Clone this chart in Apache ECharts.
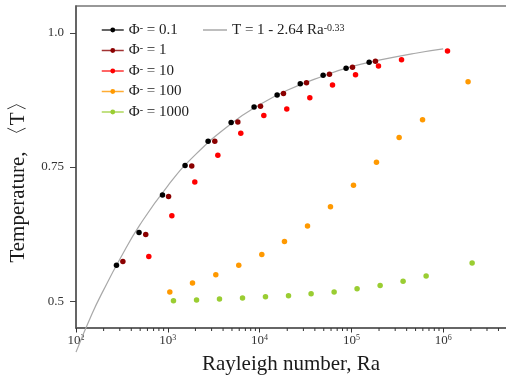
<!DOCTYPE html>
<html>
<head>
<meta charset="utf-8">
<script src="https://cdn.jsdelivr.net/npm/echarts@6/dist/echarts.min.js"></script>
<style>
  html, body { margin: 0; padding: 0; background: #fff; }
  #chart { width: 506px; height: 375px; }
</style>
</head>
<body>
<div id="chart"></div>
<script>
// Mean temperature <T> against Rayleigh number for five values of Φ⁻
const phiLabels = ['0.1', '1', '10', '100', '1000'];
const phiColors = ['#000000', '#8b0000', '#ff0000', '#ff9900', '#9acd32'];

const raPhi01 = [276, 486, 875, 1542, 2748, 4898, 8710, 15520, 27730, 49200, 87500, 156000];
const tPhi01  = [0.567, 0.628, 0.698, 0.753, 0.798, 0.833, 0.862, 0.884, 0.905, 0.921, 0.934, 0.945];

const raPhi1 = [324, 575, 1019, 1824, 3251, 5794, 10230, 18200, 32430, 57680, 102800, 182800];
const tPhi1  = [0.574, 0.624, 0.695, 0.752, 0.798, 0.834, 0.863, 0.887, 0.907, 0.923, 0.936, 0.947];

const raPhi10 = [621, 1107, 1968, 3508, 6237, 11120, 19770, 35240, 62230, 110900, 197200, 351600, 1114000];
const tPhi10  = [0.583, 0.659, 0.722, 0.772, 0.813, 0.846, 0.858, 0.879, 0.903, 0.922, 0.938, 0.950, 0.966];

const raPhi100 = [1052, 1858, 3334, 5929, 10570, 18660, 33270, 59160, 105400, 187500, 331100, 595700, 1866000];
const tPhi100  = [0.517, 0.534, 0.549, 0.567, 0.587, 0.611, 0.640, 0.676, 0.716, 0.759, 0.805, 0.838, 0.909];

const raPhi1000 = [1153, 2056, 3656, 6516, 11590, 20650, 36390, 64860, 115300, 205600, 365600, 651600, 2065000];
const tPhi1000  = [0.501, 0.502, 0.504, 0.506, 0.508, 0.510, 0.514, 0.517, 0.523, 0.529, 0.537, 0.547, 0.571];

// Scaling curve T = 1 - 2.64 Ra^-0.33
const fitRa = [100, 150, 200, 300, 500, 1000, 2000, 5000, 10000, 20000, 50000, 100000, 200000, 500000, 1000000];
const fitT  = [0.405, 0.477, 0.521, 0.578, 0.643, 0.715, 0.773, 0.832, 0.866, 0.893, 0.920, 0.937, 0.949, 0.962, 0.970];
const fitText = 'T = 1 - 2.64 Ra';
const fitExponent = '-0.33';

// Axis ticks
const yMin = 0.45, yMax = 1.05;
const yTickValues = [0.5, 0.75, 1.0];
const xMinorTicks = [];
for (let n = 2; n <= 6; n++) {
  for (let k = 2; k <= 9; k++) xMinorTicks.push(k * Math.pow(10, n));
}

const phiRa = [raPhi01, raPhi1, raPhi10, raPhi100, raPhi1000];
const phiT = [tPhi01, tPhi1, tPhi10, tPhi100, tPhi1000];

const serif = '"Liberation Serif", "Times New Roman", serif';
const pair = (xs, ys) => xs.map((x, i) => [x, ys[i]]);

const phiNames = phiLabels.map(v => 'Φ = ' + v);
const fitName = 'fit';

const series = phiLabels.map((v, i) => ({
  name: phiNames[i],
  type: 'line',
  data: pair(phiRa[i], phiT[i]),
  symbol: 'circle',
  symbolSize: 5.5,
  showSymbol: true,
  color: phiColors[i],
  lineStyle: { opacity: 0, color: phiColors[i] },
  itemStyle: { color: phiColors[i] },
  emphasis: { disabled: true },
  z: 3
}));

series.unshift({
  name: fitName,
  type: 'line',
  data: pair(fitRa, fitT),
  smooth: true,
  symbol: 'none',
  showSymbol: false,
  clip: false,
  color: '#a8a8a8',
  lineStyle: { color: '#a8a8a8', width: 1.2 },
  emphasis: { disabled: true },
  z: 2
});

// Minor (logarithmic) ticks under the Ra axis
series.push({
  name: 'minorTicks',
  type: 'custom',
  data: xMinorTicks.map(v => [v, yMin]),
  silent: true,
  clip: false,
  z: 4,
  renderItem: (params, api) => {
    const p = api.coord([api.value(0), api.value(1)]);
    return {
      type: 'line',
      shape: { x1: p[0], y1: p[1], x2: p[0], y2: p[1] + 3 },
      style: { stroke: '#333', lineWidth: 1 }
    };
  }
});

const chart = echarts.init(document.getElementById('chart'), null, { renderer: 'canvas' });

chart.setOption({
  animation: false,
  backgroundColor: '#ffffff',
  grid: {
    left: 76, top: 6, width: 459, height: 322,
    show: true, borderColor: '#777', borderWidth: 1.5,
    backgroundColor: 'transparent',
    outerBoundsMode: 'none',
    containLabel: false
  },
  xAxis: {
    type: 'log', logBase: 10, min: 100, max: 1e7, position: 'bottom',
    axisLine: { show: true, lineStyle: { color: '#555', width: 1.5 } },
    axisTick: { show: true, length: 4.5, lineStyle: { color: '#333', width: 1 } },
    minorTick: { show: false },
    splitLine: { show: false },
    axisLabel: {
      margin: 6,
      color: '#333',
      formatter: v => '{b|10}{s|' + Math.round(Math.log10(v)) + '}',
      rich: {
        b: { fontFamily: serif, fontSize: 13, color: '#333', lineHeight: 14 },
        s: { fontFamily: serif, fontSize: 8, color: '#333', lineHeight: 4, verticalAlign: 'top' }
      }
    }
  },
  yAxis: {
    type: 'value', min: yMin, max: yMax,
    axisLine: { show: true, lineStyle: { color: '#555', width: 1.5 } },
    axisTick: { show: true, length: 6, customValues: yTickValues, lineStyle: { color: '#444', width: 1 } },
    splitLine: { show: false },
    axisLabel: {
      customValues: yTickValues,
      margin: 12,
      fontFamily: serif, fontSize: 13, color: '#333',
      formatter: v => (v === 1 ? '1.0' : String(v))
    }
  },
  legend: [
    {
      data: phiNames,
      orient: 'vertical',
      left: 96, top: 17.5,
      itemWidth: 22, itemHeight: 6, itemGap: 5.5, itemTextGap: 7,
      selectedMode: false,
      lineStyle: { opacity: 0.8, width: 1.5 },
      formatter: name => '{p|Φ}{m|-}{t| = ' + name.split('= ')[1] + '}',
      textStyle: {
        fontFamily: serif, fontSize: 15, color: '#222',
        rich: {
          p: { fontFamily: serif, fontSize: 15, color: '#222', lineHeight: 14 },
          m: { fontFamily: serif, fontSize: 10, color: '#222', lineHeight: 4, verticalAlign: 'top' },
          t: { fontFamily: serif, fontSize: 15, color: '#222', lineHeight: 14 }
        }
      }
    },
    {
      data: [{ name: fitName, icon: 'rect' }],
      orient: 'vertical',
      left: 198, top: 17.5,
      itemWidth: 24, itemHeight: 1.5, itemTextGap: 11,
      selectedMode: false,
      formatter: () => '{t|' + fitText + '}{s|' + fitExponent + '}',
      textStyle: {
        fontFamily: serif, fontSize: 15, color: '#222',
        rich: {
          t: { fontFamily: serif, fontSize: 15, color: '#222', lineHeight: 14 },
          s: { fontFamily: serif, fontSize: 10, color: '#222', lineHeight: 4, verticalAlign: 'top' }
        }
      }
    }
  ],
  graphic: [
    {
      type: 'text', x: 291, y: 364,
      style: {
        text: 'Rayleigh number, Ra', fill: '#1a1a1a',
        font: '21px ' + serif, textAlign: 'center', textVerticalAlign: 'middle'
      }
    },
    {
      type: 'text', x: 18, y: 177, rotation: Math.PI / 2,
      style: {
        text: 'Temperature, 〈T〉', fill: '#1a1a1a',
        font: '21px ' + serif, textAlign: 'center', textVerticalAlign: 'middle'
      }
    }
  ],
  series: series
});
</script>
</body>
</html>
